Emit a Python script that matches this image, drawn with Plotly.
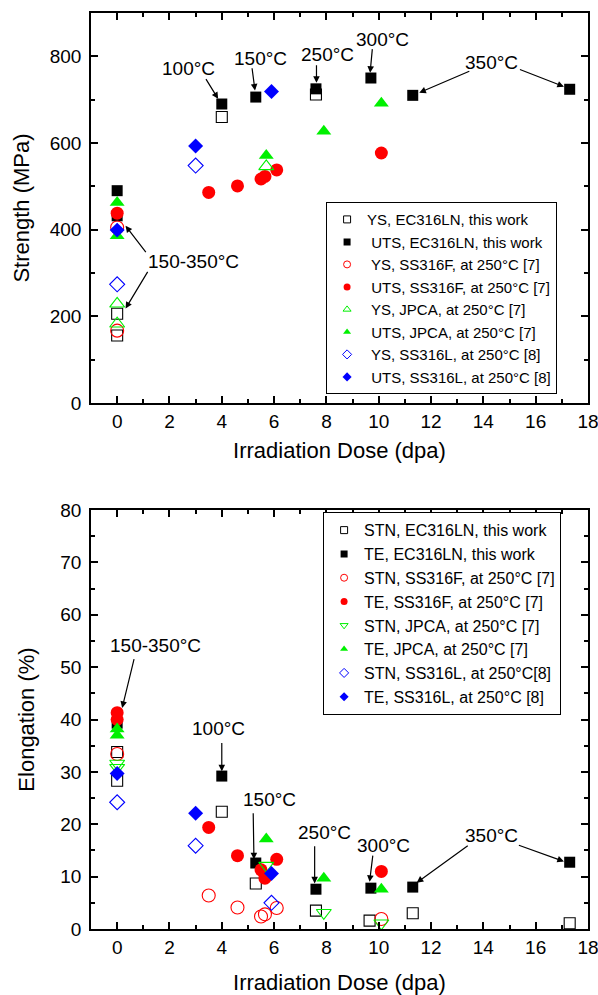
import plotly.graph_objects as go

# ---------------- Strength (MPa) vs dose (dpa) ----------------
ys_ec_x = [0, 0, 4, 7.6]
ys_ec_y = [206, 156, 660, 712]
uts_ec_x = [0, 0, 4, 5.3, 7.6, 9.7, 11.3, 17.3]
uts_ec_y = [490, 432, 690, 706, 725, 750, 710, 724]
ys_f_x = [0, 0]
ys_f_y = [405, 167]
uts_f_x = [0, 3.5, 4.6, 5.5, 5.65, 6.1, 10.1]
uts_f_y = [438, 486, 501, 517, 523, 538, 577]
ys_j_x = [0, 0, 5.7]
ys_j_y = [229, 183, 546]
uts_j_x = [0, 0, 5.7, 7.9, 10.1]
uts_j_y = [463, 386, 571, 627, 692]
ys_l_x = [0, 3]
ys_l_y = [274, 548]
uts_l_x = [0, 3, 5.9]
uts_l_y = [399, 593, 719]

# ---------------- Elongation (%) vs dose (dpa) ----------------
stn_ec_x = [0, 0, 4, 5.3, 7.6, 9.65, 11.3, 17.3]
stn_ec_y = [33.8, 28.3, 22.4, 8.7, 3.5, 1.6, 3.0, 1.1]
te_ec_x = [0, 4, 5.3, 7.6, 9.7, 11.3, 17.3]
te_ec_y = [39.3, 29.2, 12.6, 7.6, 7.8, 8.0, 12.75]
stn_f_x = [0, 3.5, 4.6, 5.5, 5.65, 6.1, 10.1]
stn_f_y = [33.4, 6.4, 4.1, 2.4, 2.8, 4.0, 1.9]
te_f_x = [0, 0, 3.5, 4.6, 5.5, 5.65, 6.1, 10.1]
te_f_y = [41.3, 40.0, 19.4, 14.0, 11.3, 9.7, 13.3, 11.0]
stn_j_x = [0, 0, 5.7, 7.9, 10.1]
stn_j_y = [31.6, 30.8, 12.1, 3.1, 1.1]
te_j_x = [0, 0, 5.7, 7.9, 10.1]
te_j_y = [38.2, 37.0, 17.2, 9.7, 7.6]
stn_l_x = [0, 3, 5.9]
stn_l_y = [24.2, 15.9, 5.0]
te_l_x = [0, 3, 5.9]
te_l_y = [29.7, 22.1, 10.6]

# temperature labels: (text, x, y) and arrows: (tail_x, tail_y, head_x, head_y)
top_labels = [("100°C", 2.72, 773), ("150°C", 5.49, 796), ("250°C", 8.05, 804),
              ("300°C", 10.16, 838), ("350°C", 14.31, 786), ("150-350°C", 2.91, 327)]
top_arrows = [(3.36, 751, 3.86, 702), (5.15, 776, 5.27, 721), (7.62, 783, 7.62, 739),
              (9.76, 820, 9.67, 762), (13.52, 767, 11.55, 716), (15.34, 771, 17.08, 730),
              (1.14, 345, 0.32, 409), (1.2, 306, 0.32, 218)]
bot_labels = [("150-350°C", 1.46, 54.1), ("100°C", 3.86, 38.2), ("150°C", 5.84, 24.7),
              ("250°C", 7.93, 18.5), ("300°C", 10.18, 16.0), ("350°C", 14.3, 17.8)]
bot_arrows = [(0.66, 51.8, 0.19, 42.2), (4.0, 35.8, 4.0, 30.1), (5.2, 22.4, 5.23, 13.3),
              (7.55, 16.1, 7.55, 8.7), (9.78, 14.3, 9.65, 9.0), (13.46, 16.1, 11.45, 8.85),
              (15.3, 16.1, 17.08, 12.9)]

BLACK, RED, GREEN, BLUE = "#000000", "#ff0000", "#00f000", "#0000ff"
FONT = "Liberation Sans, Arial, Helvetica, sans-serif"

top_series = [
    ("YS, EC316LN, this work", ys_ec_x, ys_ec_y, "square-open", BLACK, 11),
    (" UTS, EC316LN, this work", uts_ec_x, uts_ec_y, "square", BLACK, 11),
    (" YS, SS316F, at 250°C [7]", ys_f_x, ys_f_y, "circle-open", RED, 13),
    (" UTS, SS316F, at 250°C [7]", uts_f_x, uts_f_y, "circle", RED, 13),
    (" YS, JPCA, at 250°C [7]", ys_j_x, ys_j_y, "triangle-up-open", GREEN, 13),
    (" UTS, JPCA, at 250°C [7]", uts_j_x, uts_j_y, "triangle-up", GREEN, 13),
    (" YS, SS316L, at 250°C [8]", ys_l_x, ys_l_y, "diamond-open", BLUE, 11.5),
    (" UTS, SS316L, at 250°C [8]", uts_l_x, uts_l_y, "diamond", BLUE, 11.5),
]
bot_series = [
    ("STN, EC316LN, this work", stn_ec_x, stn_ec_y, "square-open", BLACK, 11),
    ("TE, EC316LN, this work", te_ec_x, te_ec_y, "square", BLACK, 11),
    ("STN, SS316F, at 250°C [7]", stn_f_x, stn_f_y, "circle-open", RED, 13),
    ("TE, SS316F, at 250°C [7]", te_f_x, te_f_y, "circle", RED, 13),
    ("STN, JPCA, at 250°C [7]", stn_j_x, stn_j_y, "triangle-down-open", GREEN, 13),
    ("TE, JPCA, at 250°C [7]", te_j_x, te_j_y, "triangle-up", GREEN, 13),
    ("STN, SS316L, at 250°C[8]", stn_l_x, stn_l_y, "diamond-open", BLUE, 11.5),
    ("TE, SS316L, at 250°C [8]", te_l_x, te_l_y, "diamond", BLUE, 11.5),
]

fig = go.Figure()


def add_series(series, xa, ya, legend):
    for name, xs, ys, sym, col, size in series:
        is_open = sym.endswith("-open")
        marker = dict(symbol=sym, size=size, color=col,
                      line=dict(width=1.1 if is_open else 0, color=col))
        fig.add_trace(go.Scatter(x=xs, y=ys, mode="markers", name=name, marker=marker,
                                 xaxis=xa, yaxis=ya, showlegend=False, cliponaxis=False))
        # small-symbol legend entry
        fig.add_trace(go.Scatter(x=[None], y=[None], mode="markers", name=name,
                                 marker=dict(symbol=sym, size=7, color=col,
                                             line=dict(width=1 if is_open else 0, color=col)),
                                 xaxis=xa, yaxis=ya, legend=legend, hoverinfo="skip"))


add_series(top_series, "x", "y", "legend")
add_series(bot_series, "x2", "y2", "legend2")

annotations = []


def add_labels(labels, arrows, xr, yr):
    for text, x, y in labels:
        annotations.append(dict(text=text, x=x, y=y, xref=xr, yref=yr, showarrow=False,
                                font=dict(family=FONT, size=19, color="black")))
    for tx, ty, hx, hy in arrows:
        annotations.append(dict(text="", x=hx, y=hy, ax=tx, ay=ty, xref=xr, yref=yr,
                                axref=xr, ayref=yr, showarrow=True, arrowhead=2,
                                arrowsize=1.1, arrowwidth=1.2, arrowcolor="black",
                                standoff=0, startstandoff=0))


add_labels(top_labels, top_arrows, "x", "y")
add_labels(bot_labels, bot_arrows, "x2", "y2")

axis_common = dict(showline=True, linecolor="black", linewidth=1.5, mirror="ticks",
                   ticks="inside", ticklen=7, tickwidth=1.5, tickcolor="black",
                   showgrid=False, zeroline=False, automargin=False,
                   ticklabeloverflow="allow",
                   tickfont=dict(family=FONT, size=19, color="black"))
title_font = dict(family=FONT, size=22, color="black")


def x_axis(standoff, anchor):
    return dict(domain=[0, 1], anchor=anchor, range=[-1, 18], tickmode="linear",
                tick0=0, dtick=2,
                minor=dict(ticks="inside", ticklen=4, tickwidth=1.5, tickcolor="black",
                           tick0=0, dtick=1, showgrid=False),
                title=dict(text="Irradiation Dose (dpa)", font=title_font, standoff=standoff),
                **axis_common)


fig.update_layout(
    width=598, height=995,
    margin=dict(l=91, r=10, t=13, b=66, autoexpand=False),
    paper_bgcolor="white", plot_bgcolor="white",
    font=dict(family=FONT, color="black"),
    xaxis=x_axis(12, "y"),
    yaxis=dict(domain=[0.5742, 1], anchor="x", range=[0, 900], tickmode="linear",
               tick0=0, dtick=200, ticklabelstandoff=4,
               minor=dict(ticks="inside", ticklen=4, tickwidth=1.5, tickcolor="black",
                          tick0=0, dtick=100, showgrid=False),
               title=dict(text="Strength (MPa)", font=title_font, standoff=14),
               **axis_common),
    xaxis2=x_axis(18, "y2"),
    yaxis2=dict(domain=[0, 0.4574], anchor="x2", range=[0, 80], tickmode="linear",
                tick0=0, dtick=10, ticklabelstandoff=4,
                minor=dict(ticks="inside", ticklen=4, tickwidth=1.5, tickcolor="black",
                           tick0=0, dtick=5, showgrid=False),
                title=dict(text="Elongation (%)", font=title_font, standoff=20),
                **axis_common),
    legend=dict(x=0.473, y=0.7935, xanchor="left", yanchor="top", bgcolor="white",
                bordercolor="black", borderwidth=1, tracegroupgap=0,
                font=dict(family=FONT, size=15, color="black")),
    legend2=dict(x=0.467, y=0.455, xanchor="left", yanchor="top", bgcolor="white",
                 bordercolor="black", borderwidth=1, tracegroupgap=0,
                 font=dict(family=FONT, size=16, color="black")),
    annotations=annotations,
    showlegend=True,
)

fig.write_html("out.html", config={"displayModeBar": False})
